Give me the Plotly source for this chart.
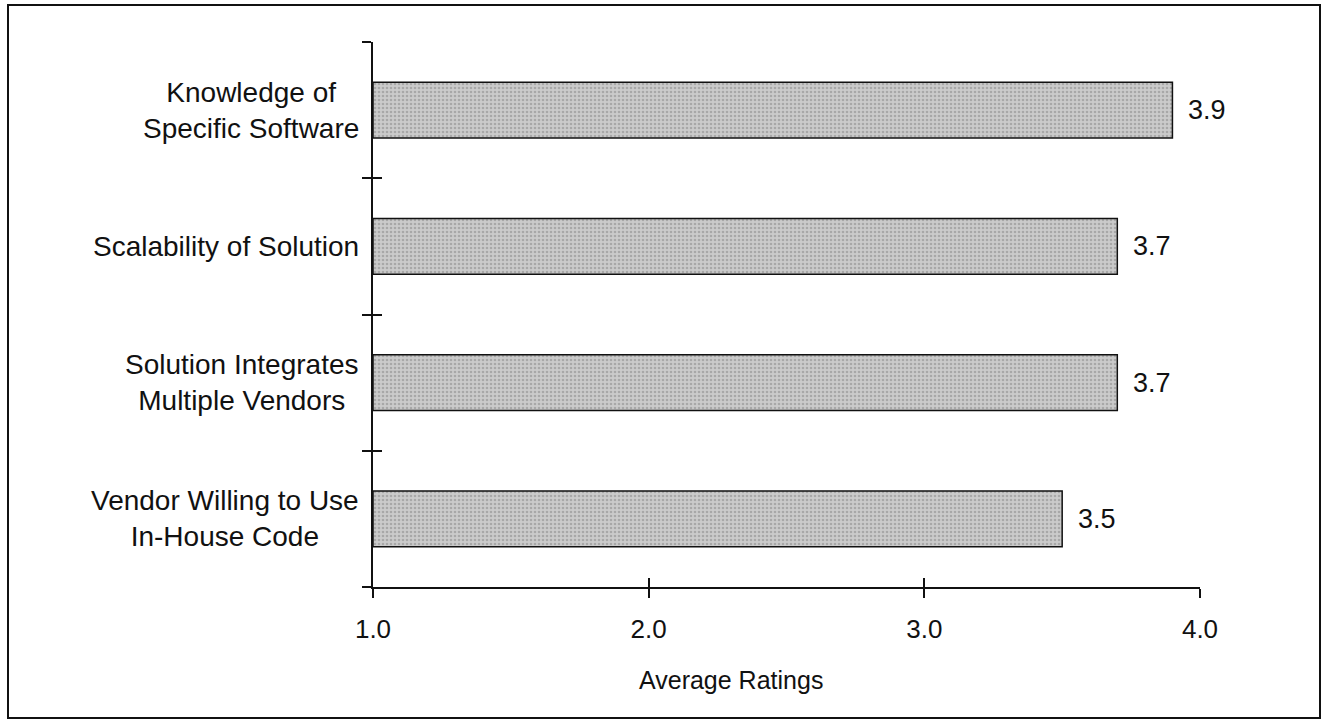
import plotly.graph_objects as go

categories = [
    "Knowledge of<br>Specific Software",
    "Scalability of Solution",
    "Solution Integrates<br>Multiple Vendors",
    "Vendor Willing to Use<br>In-House Code",
]
ratings = [3.9, 3.7, 3.7, 3.5]
x_ticks = [1.0, 2.0, 3.0, 4.0]
x_tick_labels = ["1.0", "2.0", "3.0", "4.0"]
x_title = "Average Ratings"

FONT = "Liberation Sans, Arial, sans-serif"
INK = "#111111"
cat_order = list(reversed(categories))  # bottom to top

fig = go.Figure()
fig.add_trace(go.Bar(
    y=categories, x=[r - 1.0 for r in ratings], base=1.0, orientation="h",
    width=0.41,
    marker=dict(
        color="#c4c4c4",
        line=dict(color=INK, width=1.5),
        pattern=dict(shape=".", fgcolor="#858585", bgcolor="#cbcbcb", size=4, solidity=0.35),
    ),
    hoverinfo="skip",
))

annotations = []
for c, r in zip(categories, ratings):
    annotations.append(dict(
        x=r, y=c, xref="x", yref="y", text=f"{r:.1f}", showarrow=False,
        xanchor="left", xshift=14, font=dict(family=FONT, size=27, color=INK),
    ))
    annotations.append(dict(
        x=0, y=c, xref="paper", yref="y", text=c, showarrow=False,
        xanchor="right", xshift=-12, align="center",
        font=dict(family=FONT, size=28, color=INK),
    ))
# axis title (sits left of the plot-area centre in the original)
annotations.append(dict(
    x=(731 - 373) / 827, y=-(680 - 587) / 545, xref="paper", yref="paper",
    text=x_title, showarrow=False, xanchor="center", yanchor="middle",
    font=dict(family=FONT, size=25, color=INK),
))

fig.update_layout(
    width=1328, height=723,
    margin=dict(l=373, r=128, t=42, b=136),
    paper_bgcolor="white", plot_bgcolor="white",
    showlegend=False,
    font=dict(family=FONT, size=26, color=INK),
    annotations=annotations,
    xaxis=dict(
        range=[1.0, 4.0], tickvals=x_ticks, ticktext=x_tick_labels,
        showgrid=False, zeroline=False, showline=True, linecolor=INK, linewidth=1.5,
        ticks="outside", ticklen=9, tickwidth=1.5, tickcolor=INK,
        ticklabelstandoff=9,
        tickfont=dict(family=FONT, size=26),
    ),
    xaxis2=dict(
        range=[1.0, 4.0], tickvals=x_ticks, overlaying="x", side="bottom", anchor="y",
        showticklabels=False, showgrid=False, zeroline=False, showline=False,
        ticks="inside", ticklen=9, tickwidth=1.5, tickcolor=INK,
    ),
    yaxis=dict(
        type="category", categoryorder="array", categoryarray=cat_order,
        range=[-0.5, 3.5], showticklabels=False,
        showgrid=False, zeroline=False, showline=True, linecolor=INK, linewidth=1.5,
        ticks="outside", tickson="boundaries", ticklen=9, tickwidth=1.5, tickcolor=INK,
    ),
    yaxis2=dict(
        range=[-0.5, 3.5], tickvals=[-0.5, 0.5, 1.5, 2.5, 3.5], overlaying="y", side="left", anchor="x",
        showticklabels=False, showgrid=False, zeroline=False, showline=False,
        ticks="inside", ticklen=9, tickwidth=1.5, tickcolor=INK,
    ),
    shapes=[dict(
        type="rect", xref="paper", yref="paper",
        x0=-365 / 827, x1=(1320 - 373) / 827, y0=-(718 - 587) / 545, y1=(587 - 5) / 545,
        line=dict(color=INK, width=2), fillcolor="rgba(0,0,0,0)", layer="below",
    )],
)
# invisible trace to activate overlay axes
fig.add_trace(go.Scatter(x=[1.0], y=[0], xaxis="x2", yaxis="y2", mode="markers",
                         marker=dict(opacity=0), hoverinfo="skip"))

fig.write_html("out.html")
